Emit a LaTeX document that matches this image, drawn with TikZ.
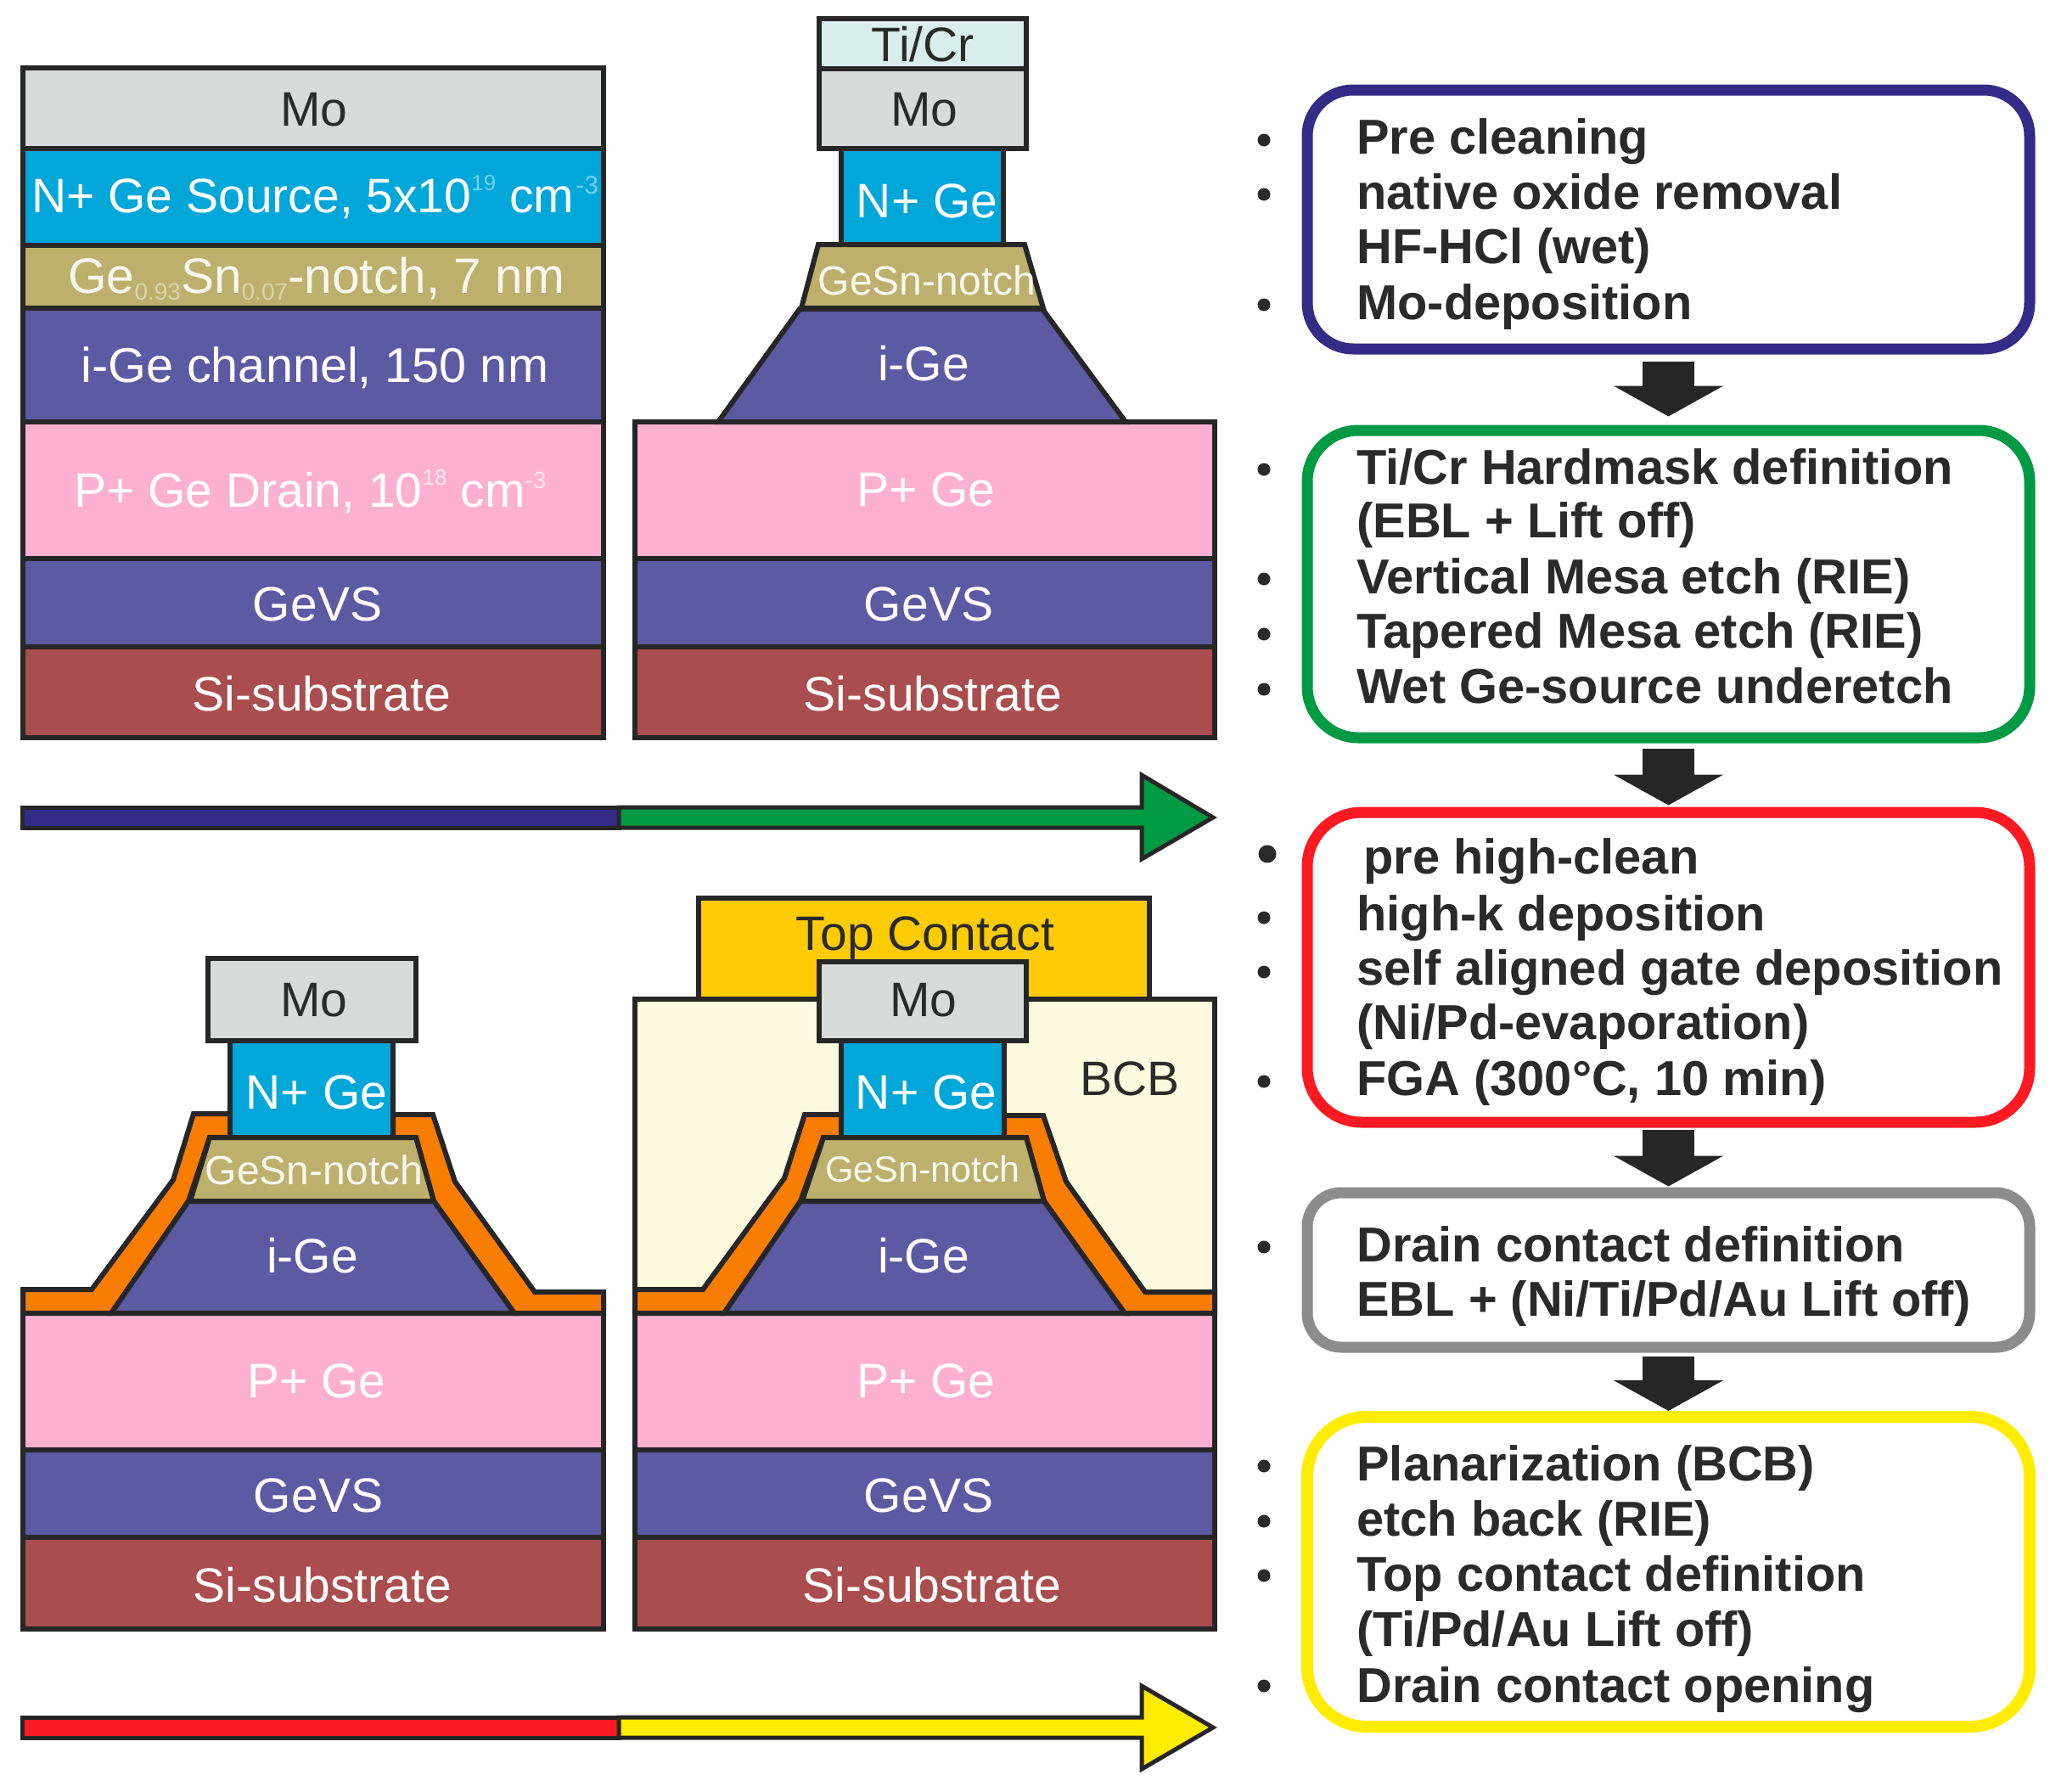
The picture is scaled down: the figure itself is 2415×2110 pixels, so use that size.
\documentclass[tikz,border=0pt]{standalone}
\usepackage{fontspec}
\setmainfont{Liberation Sans}
\usetikzlibrary{arrows.meta}
\newcommand\fsz[1]{\fontsize{#1}{#1}\selectfont}
\definecolor{moC}{HTML}{D9DBDB}
\definecolor{nC}{HTML}{00A7D8}
\definecolor{snC}{HTML}{BDB06C}
\definecolor{geC}{HTML}{5C5AA2}
\definecolor{pC}{HTML}{FDB0D0}
\definecolor{siC}{HTML}{A94D4E}
\definecolor{tiC}{HTML}{D8EEEE}
\definecolor{oxC}{HTML}{F97D00}
\definecolor{auC}{HTML}{FFCB05}
\definecolor{bcbC}{HTML}{FFFADF}
\definecolor{lineC}{HTML}{262626}
\definecolor{blueC}{HTML}{332C86}
\definecolor{greenC}{HTML}{009A44}
\definecolor{redC}{HTML}{FB1A22}
\definecolor{grayC}{HTML}{8C8C8C}
\definecolor{yelC}{HTML}{FFEC00}
\definecolor{txtC}{HTML}{2A2A2A}
\tikzset{
  layer/.style={draw=lineC,line width=3pt,line join=miter},
  lab/.style={anchor=base,inner sep=0pt,text=white,font=\fsz{28.5}},
  dlab/.style={lab,text=txtC},
  wlab/.style={lab,anchor=base west},
  notch/.style={lab,text=white!90!snC,font=\fsz{#1}},
  proc/.style={draw,line width=6.5pt,fill=white,rounded corners=#1,inner sep=0pt,minimum width=425.5pt},
  ptext/.style={anchor=base west,inner sep=0pt,text=txtC,font=\bfseries\fsz{28.9}},
  dot/.style={circle,fill=txtC,inner sep=0pt,minimum size=7.5pt},
  flow/.style={draw=lineC,line width=30.5pt,-{Triangle[length=18pt,width=64pt,color=lineC]}},
  bar/.style={draw=lineC,line width=2.5pt,line join=miter}
}
\begin{document}
\begin{tikzpicture}[x=0.5pt,y=-0.5pt]
\useasboundingbox (0,0) rectangle (2415,2110);
% --- stack 1
\draw[layer,fill=moC] (27,80) rectangle (711,175);
\draw[layer,fill=nC] (27,175) rectangle (711,289);
\draw[layer,fill=snC] (27,289) rectangle (711,363);
\draw[layer,fill=geC] (27,363) rectangle (711,497);
\draw[layer,fill=pC] (27,497) rectangle (711,658);
\draw[layer,fill=geC] (27,658) rectangle (711,762);
\draw[layer,fill=siC] (27,762) rectangle (711,869);
\node[dlab] (amo) at (370,148) {Mo};
\node[wlab] (asrc) at (37,250) {N+ Ge Source, 5x10\raisebox{13pt}{\fsz{13}\color{nC!55!white}19}\hspace{8pt}cm\hspace{1pt}\raisebox{11pt}{\fsz{15}\color{nC!55!white}-3}};
\node[wlab,text=white!90!snC,font=\fsz{29.3}] (anotch) at (80,345) {Ge\raisebox{-4pt}{\fsz{14}\color{white!45!snC}0.93}Sn\raisebox{-4pt}{\fsz{14}\color{white!45!snC}0.07}-notch, 7 nm};
\node[wlab,font=\fsz{28.8}] (achan) at (95,450) {i-Ge channel, 150 nm};
\node[wlab] (adrain) at (87,597) {P+ Ge Drain, 10\raisebox{13pt}{\fsz{13}\color{white!70!pC}18}\hspace{8pt}cm\raisebox{11pt}{\fsz{14}\color{white!70!pC}-3}};
\node[lab] (avs) at (374,731) {GeVS};
\node[lab] (asi) at (379,837) {Si-substrate};
% --- stack 2
\draw[layer,fill=pC] (748,497) rectangle (1431,658);
\draw[layer,fill=geC] (748,658) rectangle (1431,762);
\draw[layer,fill=siC] (748,762) rectangle (1431,869);
\draw[layer,fill=geC] (846,497) -- (942,364) -- (1228,364) -- (1326,497) -- cycle;
\draw[layer,fill=snC] (964,288) -- (1207,288) -- (1229,363) -- (944,363) -- cycle;
\draw[layer,fill=nC] (991,175) rectangle (1182,288);
\draw[layer,fill=tiC] (965,22) rectangle (1209,81);
\draw[layer,fill=moC] (965,81) rectangle (1209,175);
\node[dlab] (bti) at (1087,72) {Ti/Cr};
\node[dlab] (bmo) at (1089,148) {Mo};
\node[lab] (bn) at (1092,256) {N+ Ge};
\node[notch=24] (bsn) at (1092,347) {GeSn-notch};
\node[lab] (bge) at (1088,448) {i-Ge};
\node[lab] (bp) at (1091,596) {P+ Ge};
\node[lab] (bvs) at (1094,731) {GeVS};
\node[lab] (bsi) at (1099,837) {Si-substrate};
% --- arrow 1
\draw[bar,fill=blueC] (26,951) rectangle (729,975);
\draw[bar,fill=greenC] (729,951) -- (1345,951) -- (1345,913) -- (1429,963) -- (1345,1012) -- (1345,975) -- (729,975) -- cycle;
% --- stack 3
\draw[layer,fill=pC] (27,1547) rectangle (711,1708);
\draw[layer,fill=geC] (27,1708) rectangle (711,1811);
\draw[layer,fill=siC] (27,1811) rectangle (711,1919);
\draw[layer,fill=oxC] (27,1547) -- (27,1519) -- (108,1519) -- (204,1390) -- (228,1312) -- (271,1312) -- (271,1340) -- (247,1340) -- (222,1415) -- (131,1547) -- cycle;
\draw[layer,fill=oxC] (711,1547) -- (711,1522) -- (630,1522) -- (536,1392) -- (510,1313) -- (463,1313) -- (463,1340) -- (490,1340) -- (511,1415) -- (606,1547) -- cycle;
\draw[layer,fill=geC] (131,1547) -- (222,1415) -- (511,1415) -- (606,1547) -- cycle;
\draw[layer,fill=snC] (247,1340) -- (490,1340) -- (511,1415) -- (224,1415) -- cycle;
\draw[layer,fill=nC] (271,1226) rectangle (463,1340);
\draw[layer,fill=moC] (245,1129) rectangle (490,1226);
\node[dlab] (cmo) at (370,1197) {Mo};
\node[lab] (cn) at (373,1306) {N+ Ge};
\node[notch=24] (csn) at (370,1395) {GeSn-notch};
\node[lab] (cge) at (368,1499) {i-Ge};
\node[lab] (cp) at (373,1646) {P+ Ge};
\node[lab] (cvs) at (375,1781) {GeVS};
\node[lab] (csi) at (380,1887) {Si-substrate};
% --- stack 4
\draw[layer,fill=auC] (823,1058) rectangle (1354,1178);
\draw[layer,fill=bcbC] (748,1177) rectangle (1431,1547);
\draw[layer,fill=pC] (748,1547) rectangle (1431,1708);
\draw[layer,fill=geC] (748,1708) rectangle (1431,1811);
\draw[layer,fill=siC] (748,1811) rectangle (1431,1919);
\draw[layer,fill=oxC] (748,1547) -- (748,1519) -- (828,1519) -- (924,1388) -- (948,1313) -- (991,1313) -- (991,1340) -- (970,1340) -- (943,1415) -- (853,1547) -- cycle;
\draw[layer,fill=oxC] (1431,1547) -- (1431,1522) -- (1349,1522) -- (1256,1392) -- (1229,1314) -- (1183,1314) -- (1183,1340) -- (1209,1340) -- (1230,1415) -- (1325,1547) -- cycle;
\draw[layer,fill=geC] (853,1547) -- (943,1415) -- (1230,1415) -- (1325,1547) -- cycle;
\draw[layer,fill=snC] (970,1340) -- (1209,1340) -- (1230,1415) -- (945,1415) -- cycle;
\draw[layer,fill=nC] (991,1226) rectangle (1183,1340);
\draw[layer,fill=moC] (965,1133) rectangle (1209,1226);
\node[dlab] (dtop) at (1090,1119) {Top Contact};
\node[dlab] (dmo) at (1088,1197) {Mo};
\node[lab] (dn) at (1091,1306) {N+ Ge};
\node[notch=21.5] (dsn) at (1087,1392) {GeSn-notch};
\node[lab] (dge) at (1088,1499) {i-Ge};
\node[dlab] (dbcb) at (1331,1290) {BCB};
\node[lab] (dp) at (1091,1646) {P+ Ge};
\node[lab] (dvs) at (1094,1781) {GeVS};
\node[lab] (dsi) at (1098,1887) {Si-substrate};
% --- arrow 2
\draw[bar,fill=redC] (26,2023) rectangle (729,2047);
\draw[bar,fill=yelC] (729,2023) -- (1345,2023) -- (1345,1986) -- (1429,2035) -- (1345,2084) -- (1345,2047) -- (729,2047) -- cycle;
% --- process boxes
\node[proc=27pt,draw=blueC,minimum height=152.5pt] (p1) at (1965.5,258.5) {};
\node[proc=30pt,draw=greenC,minimum height=181pt] (p2) at (1965.5,688) {};
\node[proc=32pt,draw=redC,minimum height=182.5pt] (p3) at (1965.5,1139.5) {};
\node[proc=20pt,draw=grayC,minimum height=91pt] (p4) at (1965.5,1496) {};
\node[proc=35pt,draw=yelC,minimum height=182.5pt,line width=7pt] (p5) at (1965.5,1851.5) {};
\draw[flow] ([yshift=-4pt]p1.south) -- ([yshift=5pt]p2.north);
\draw[flow] ([yshift=-3pt]p2.south) -- ([yshift=1pt]p3.north);
\draw[flow] ([yshift=-1pt]p3.south) -- ([yshift=0.5pt]p4.north);
\draw[flow] ([yshift=-2pt]p4.south) -- (p5.north);
% texts
\node[ptext] (t11) at (1598,181) {Pre cleaning};
\node[ptext] (t12) at (1598,246) {native oxide removal};
\node[ptext] (t13) at (1598,310) {HF-HCl (wet)};
\node[ptext] (t14) at (1598,376) {Mo-deposition};
\node[ptext] (t21) at (1598,570) {Ti/Cr Hardmask definition};
\node[ptext] (t22) at (1598,633) {(EBL + Lift off)};
\node[ptext] (t23) at (1598,699) {Vertical Mesa etch (RIE)};
\node[ptext] (t24) at (1598,763) {Tapered Mesa etch (RIE)};
\node[ptext] (t25) at (1598,828) {Wet Ge-source underetch};
\node[ptext] (t31) at (1606,1029) {pre high-clean};
\node[ptext] (t32) at (1598,1096) {high-k deposition};
\node[ptext] (t33) at (1598,1160) {self aligned gate deposition};
\node[ptext] (t34) at (1598,1224) {(Ni/Pd-evaporation)};
\node[ptext] (t35) at (1598,1290) {FGA (300°C, 10 min)};
\node[ptext] (t41) at (1598,1486) {Drain contact definition};
\node[ptext] (t42) at (1598,1550) {EBL + (Ni/Ti/Pd/Au Lift off)};
\node[ptext] (t51) at (1598,1744) {Planarization (BCB)};
\node[ptext] (t52) at (1598,1809) {etch back (RIE)};
\node[ptext] (t53) at (1598,1874) {Top contact definition};
\node[ptext] (t54) at (1598,1939) {(Ti/Pd/Au Lift off)};
\node[ptext] (t55) at (1598,2005) {Drain contact opening};
% bullets
\foreach \n/\y in {d1/165,d2/229,d3/359,d4/553,d5/682,d6/747,d7/812,d8/1081,d9/1145,d10/1274,d11/1469,d12/1727,d13/1792,d14/1856,d15/1986}
  \node[dot] (\n) at (1489,\y) {};
\node[dot,minimum size=10.5pt] (d0) at (1493,1006) {};
\end{tikzpicture}
\end{document}
